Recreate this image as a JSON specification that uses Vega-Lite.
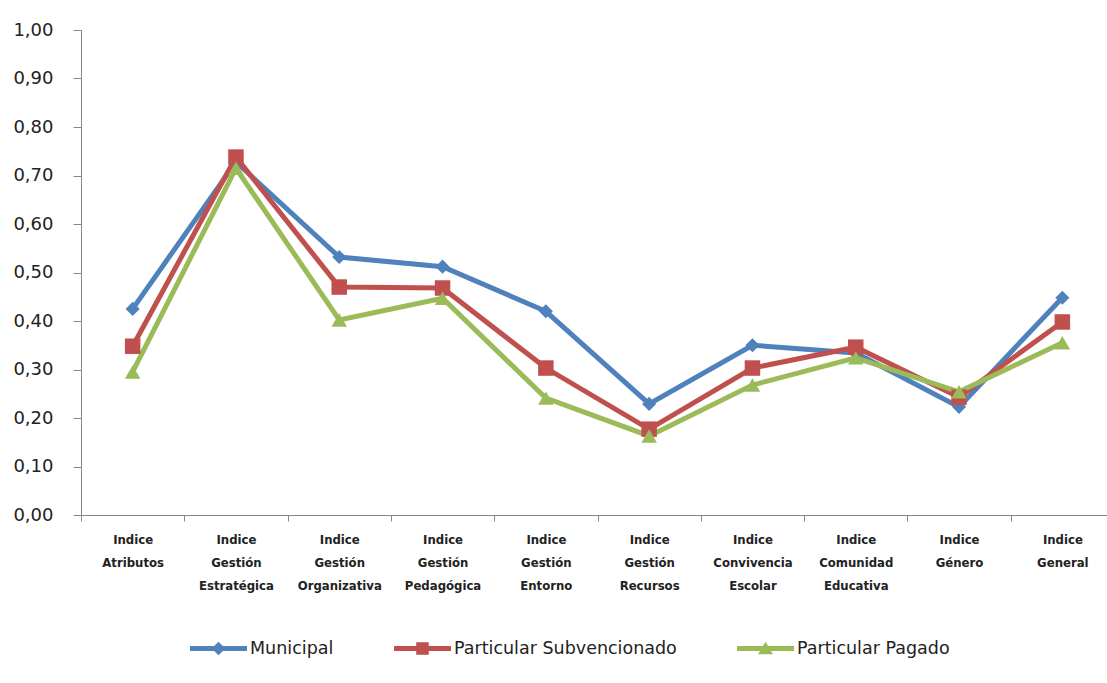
{
  "$schema": "https://vega.github.io/schema/vega-lite/v6.json",
  "autosize": {"type": "none"},
  "width": 1026,
  "height": 485,
  "padding": {"left": 81, "top": 30, "right": 0, "bottom": 168},
  "background": "white",
  "data": {
    "values": [
      {"indice": "Indice Atributos", "serie": "Municipal", "valor": 0.425},
      {"indice": "Indice Gestión Estratégica", "serie": "Municipal", "valor": 0.728},
      {"indice": "Indice Gestión Organizativa", "serie": "Municipal", "valor": 0.532},
      {"indice": "Indice Gestión Pedagógica", "serie": "Municipal", "valor": 0.512},
      {"indice": "Indice Gestión Entorno", "serie": "Municipal", "valor": 0.42},
      {"indice": "Indice Gestión Recursos", "serie": "Municipal", "valor": 0.229},
      {"indice": "Indice Convivencia Escolar", "serie": "Municipal", "valor": 0.35},
      {"indice": "Indice Comunidad Educativa", "serie": "Municipal", "valor": 0.334},
      {"indice": "Indice Género", "serie": "Municipal", "valor": 0.223},
      {"indice": "Indice General", "serie": "Municipal", "valor": 0.448},
      {"indice": "Indice Atributos", "serie": "Particular Subvencionado", "valor": 0.348},
      {"indice": "Indice Gestión Estratégica", "serie": "Particular Subvencionado", "valor": 0.738},
      {"indice": "Indice Gestión Organizativa", "serie": "Particular Subvencionado", "valor": 0.47},
      {"indice": "Indice Gestión Pedagógica", "serie": "Particular Subvencionado", "valor": 0.468},
      {"indice": "Indice Gestión Entorno", "serie": "Particular Subvencionado", "valor": 0.303},
      {"indice": "Indice Gestión Recursos", "serie": "Particular Subvencionado", "valor": 0.177},
      {"indice": "Indice Convivencia Escolar", "serie": "Particular Subvencionado", "valor": 0.303},
      {"indice": "Indice Comunidad Educativa", "serie": "Particular Subvencionado", "valor": 0.346},
      {"indice": "Indice Género", "serie": "Particular Subvencionado", "valor": 0.243},
      {"indice": "Indice General", "serie": "Particular Subvencionado", "valor": 0.398},
      {"indice": "Indice Atributos", "serie": "Particular Pagado", "valor": 0.295},
      {"indice": "Indice Gestión Estratégica", "serie": "Particular Pagado", "valor": 0.715},
      {"indice": "Indice Gestión Organizativa", "serie": "Particular Pagado", "valor": 0.402},
      {"indice": "Indice Gestión Pedagógica", "serie": "Particular Pagado", "valor": 0.447},
      {"indice": "Indice Gestión Entorno", "serie": "Particular Pagado", "valor": 0.241},
      {"indice": "Indice Gestión Recursos", "serie": "Particular Pagado", "valor": 0.163},
      {"indice": "Indice Convivencia Escolar", "serie": "Particular Pagado", "valor": 0.268},
      {"indice": "Indice Comunidad Educativa", "serie": "Particular Pagado", "valor": 0.324},
      {"indice": "Indice Género", "serie": "Particular Pagado", "valor": 0.254},
      {"indice": "Indice General", "serie": "Particular Pagado", "valor": 0.355}
    ]
  },
  "encoding": {
    "x": {
      "field": "indice",
      "type": "nominal",
      "sort": null,
      "title": null,
      "scale": {"range": [0, 1033], "paddingInner": 0, "paddingOuter": 0},
      "axis": {
        "tickBand": "extent",
        "tickSize": 6,
        "tickColor": "#868686",
        "domainColor": "#868686",
        "labelAngle": 0,
        "labelExpr": "split(datum.label, ' ')",
        "labelFont": "DejaVu Sans Condensed",
        "labelFontWeight": "bold",
        "labelFontSize": 13,
        "labelLineHeight": 23,
        "labelColor": "#222222",
        "labelPadding": 12,
        "labelBaseline": "top"
      }
    },
    "y": {
      "field": "valor",
      "type": "quantitative",
      "title": null,
      "scale": {"domain": [0, 1], "nice": false},
      "axis": {
        "values": [0, 0.1, 0.2, 0.3, 0.4, 0.5, 0.6, 0.7, 0.8, 0.9, 1],
        "labelExpr": "replace(format(datum.value, '.2f'), '.', ',')",
        "grid": false,
        "tickSize": 8,
        "tickColor": "#868686",
        "domainColor": "#868686",
        "labelFont": "DejaVu Sans",
        "labelFontSize": 18,
        "labelColor": "#222222",
        "labelPadding": 20
      }
    },
    "color": {
      "field": "serie",
      "type": "nominal",
      "sort": null,
      "scale": {
        "domain": ["Municipal", "Particular Subvencionado", "Particular Pagado"],
        "range": ["#4F81BD", "#C0504D", "#9BBB59"]
      }
    }
  },
  "layer": [
    {
      "mark": {"type": "line", "strokeWidth": 5},
      "encoding": {
        "color": {
          "field": "serie",
          "type": "nominal",
          "sort": null,
          "legend": {
            "title": null,
            "orient": "none",
            "direction": "horizontal",
            "columns": 3,
            "legendX": 109,
            "legendY": 590,
            "padding": 0,
            "symbolSize": 3249,
            "labelOffset": 3,
            "labelLimit": 0,
            "columnPadding": 60,
            "labelFont": "DejaVu Sans",
            "labelFontSize": 17.5,
            "labelColor": "#222222",
            "encode": {
              "symbols": {
                "update": {
                  "shape": {"signal": "datum.value == 'Municipal' ? 'M-1,-0.088H1V0.088H-1ZM0,-0.24L0.24,0L0,0.24L-0.24,0Z' : datum.value == 'Particular Subvencionado' ? 'M-1,-0.088H1V0.088H-1ZM-0.22,-0.22H0.22V0.22H-0.22Z' : 'M-1,-0.088H1V0.088H-1ZM0,-0.24L0.26,0.2L-0.26,0.2Z'"},
                  "size": {"value": 3249},
                  "fill": {"scale": "color", "field": "value"},
                  "fillOpacity": {"value": 1},
                  "strokeWidth": {"value": 0},
                  "opacity": {"value": 1}
                }
              }
            }
          }
        }
      }
    },
    {
      "transform": [{"filter": "datum.serie == 'Municipal'"}],
      "mark": {"type": "point", "filled": true, "opacity": 1, "shape": "diamond", "size": 200}
    },
    {
      "transform": [{"filter": "datum.serie == 'Particular Subvencionado'"}],
      "mark": {"type": "point", "filled": true, "opacity": 1, "shape": "square", "size": 240}
    },
    {
      "transform": [{"filter": "datum.serie == 'Particular Pagado'"}],
      "mark": {"type": "point", "filled": true, "opacity": 1, "shape": "triangle-up", "size": 240}
    }
  ],
  "config": {"view": {"stroke": null}}
}
